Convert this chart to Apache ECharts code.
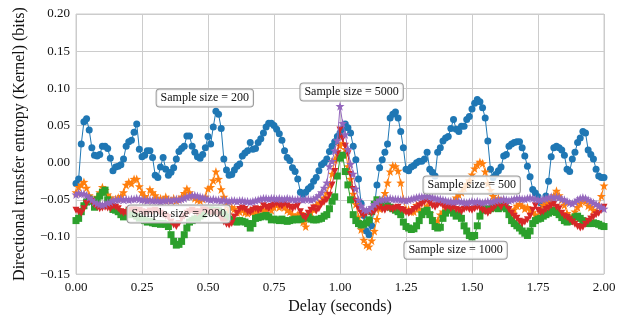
<!DOCTYPE html>
<html>
<head>
<meta charset="utf-8">
<script src="https://cdn.jsdelivr.net/npm/echarts@6/dist/echarts.min.js"></script>
<style>html,body{margin:0;padding:0;background:#fff}#c{width:632px;height:320px}</style>
</head>
<body>
<div id="c"></div>
<script>
// Delay axis: 0.00 .. 2.00 seconds in 0.01 s steps
const xTicks = ['0.00','0.25','0.50','0.75','1.00','1.25','1.50','1.75','2.00'];
const yTicks = ['−0.15','−0.10','−0.05','0.00','0.05','0.10','0.15','0.20'];
const seriesNames = ['Sample size = 200','Sample size = 500','Sample size = 1000','Sample size = 2000','Sample size = 5000'];

const te200 = [
-0.028,-0.022,0.025,0.055,0.059,0.044,0.020,0.010,0.009,0.011,
0.022,0.022,0.019,0.006,-0.011,-0.006,-0.005,-0.003,0.005,0.022,
0.028,0.030,0.041,0.052,0.018,0.008,0.010,0.016,0.016,0.007,
-0.017,-0.020,-0.006,0.007,-0.009,-0.017,-0.013,-0.007,0.005,0.015,
0.019,0.022,0.036,0.036,0.022,0.014,0.008,0.006,0.011,0.020,
0.035,0.025,0.048,0.069,0.065,0.046,0.005,-0.010,-0.017,-0.016,
-0.010,-0.005,-0.002,0.009,0.013,0.016,0.027,0.018,0.019,0.027,
0.032,0.040,0.048,0.053,0.053,0.050,0.045,0.039,0.030,0.016,
0.007,0.003,-0.007,-0.012,-0.022,-0.040,-0.043,-0.040,-0.035,-0.032,
-0.025,-0.020,-0.011,-0.003,0.000,0.005,0.015,0.022,0.028,0.035,
0.040,0.045,0.052,0.047,0.040,0.022,0.004,-0.022,-0.055,-0.071,
-0.092,-0.097,-0.085,-0.060,-0.030,-0.007,0.004,0.014,0.025,0.060,
0.065,0.068,0.060,0.042,0.020,-0.009,-0.011,-0.006,-0.004,0.000,
0.002,0.002,0.005,0.014,-0.009,-0.013,-0.018,0.014,0.020,0.029,
0.033,0.035,0.046,0.058,0.045,0.042,0.049,0.049,0.058,0.062,
0.072,0.080,0.085,0.082,0.074,0.060,0.029,-0.009,-0.020,-0.016,
-0.011,-0.006,0.009,0.011,0.022,0.025,0.027,0.028,0.028,0.020,
0.009,-0.005,-0.019,-0.036,-0.041,-0.046,-0.054,-0.057,-0.045,-0.025,
0.008,0.020,0.022,0.020,0.017,0.010,-0.009,-0.012,0.005,0.014,
0.027,0.033,0.042,0.040,0.017,0.011,0.005,-0.009,-0.018,-0.020,
-0.020];

const te500 = [
-0.040,-0.033,-0.030,-0.026,-0.034,-0.044,-0.049,-0.051,-0.046,-0.040,
-0.033,-0.037,-0.043,-0.047,-0.050,-0.049,-0.047,-0.045,-0.040,-0.030,
-0.026,-0.028,-0.022,-0.022,-0.032,-0.040,-0.045,-0.049,-0.036,-0.040,
-0.044,-0.049,-0.048,-0.050,-0.046,-0.050,-0.051,-0.048,-0.051,-0.049,
-0.046,-0.041,-0.035,-0.040,-0.045,-0.048,-0.050,-0.051,-0.049,-0.046,
-0.035,-0.033,-0.024,-0.012,-0.022,-0.036,-0.046,-0.058,-0.064,-0.060,
-0.062,-0.067,-0.066,-0.063,-0.067,-0.068,-0.064,-0.066,-0.070,-0.065,
-0.062,-0.066,-0.063,-0.060,-0.064,-0.060,-0.057,-0.060,-0.055,-0.060,
-0.064,-0.066,-0.070,-0.073,-0.070,-0.068,-0.080,-0.086,-0.073,-0.067,
-0.063,-0.057,-0.054,-0.052,-0.047,-0.041,-0.030,-0.015,0.004,0.015,
0.023,0.026,0.018,-0.005,-0.022,-0.042,-0.056,-0.073,-0.090,-0.104,
-0.111,-0.113,-0.105,-0.092,-0.076,-0.062,-0.050,-0.041,-0.027,-0.012,
-0.004,-0.005,-0.011,-0.027,-0.049,-0.064,-0.063,-0.066,-0.066,-0.057,
-0.062,-0.068,-0.063,-0.058,-0.068,-0.075,-0.080,-0.078,-0.070,-0.066,
-0.060,-0.054,-0.058,-0.052,-0.047,-0.043,-0.040,-0.034,-0.029,-0.024,
-0.016,-0.008,-0.003,0.001,-0.001,-0.012,-0.028,-0.037,-0.045,-0.051,
-0.048,-0.053,-0.057,-0.061,-0.065,-0.068,-0.063,-0.058,-0.056,-0.058,
-0.062,-0.060,-0.064,-0.067,-0.070,-0.073,-0.064,-0.057,-0.055,-0.053,
-0.048,-0.044,-0.038,-0.044,-0.050,-0.057,-0.068,-0.072,-0.073,-0.066,
-0.060,-0.055,-0.050,-0.052,-0.058,-0.060,-0.064,-0.066,-0.058,-0.045,
-0.031];

const te1000 = [
-0.078,-0.075,-0.066,-0.058,-0.053,-0.049,-0.052,-0.060,-0.050,-0.045,
-0.040,-0.037,-0.050,-0.057,-0.063,-0.064,-0.066,-0.070,-0.073,-0.068,
-0.066,-0.070,-0.067,-0.072,-0.075,-0.076,-0.078,-0.080,-0.079,-0.081,
-0.082,-0.082,-0.083,-0.082,-0.083,-0.086,-0.097,-0.106,-0.111,-0.110,
-0.106,-0.097,-0.088,-0.080,-0.078,-0.076,-0.075,-0.072,-0.070,-0.066,
-0.062,-0.063,-0.066,-0.064,-0.065,-0.067,-0.070,-0.073,-0.076,-0.077,
-0.079,-0.080,-0.078,-0.079,-0.080,-0.082,-0.088,-0.082,-0.075,-0.074,
-0.073,-0.072,-0.071,-0.073,-0.077,-0.076,-0.077,-0.078,-0.076,-0.078,
-0.079,-0.078,-0.077,-0.076,-0.077,-0.076,-0.075,-0.074,-0.073,-0.076,
-0.077,-0.077,-0.076,-0.075,-0.072,-0.070,-0.062,-0.052,-0.046,-0.018,
0.006,0.010,-0.012,-0.030,-0.050,-0.070,-0.078,-0.082,-0.084,-0.083,
-0.081,-0.077,-0.066,-0.056,-0.050,-0.052,-0.053,-0.055,-0.058,-0.060,
-0.062,-0.064,-0.066,-0.070,-0.080,-0.086,-0.088,-0.090,-0.089,-0.085,
-0.078,-0.070,-0.066,-0.064,-0.070,-0.078,-0.086,-0.088,-0.087,-0.075,
-0.068,-0.063,-0.064,-0.068,-0.072,-0.070,-0.075,-0.085,-0.092,-0.098,
-0.100,-0.098,-0.085,-0.072,-0.064,-0.062,-0.064,-0.062,-0.060,-0.061,
-0.062,-0.058,-0.060,-0.062,-0.070,-0.078,-0.082,-0.085,-0.088,-0.092,
-0.095,-0.098,-0.092,-0.082,-0.078,-0.076,-0.075,-0.072,-0.070,-0.068,
-0.066,-0.064,-0.067,-0.070,-0.074,-0.078,-0.080,-0.079,-0.076,-0.073,
-0.072,-0.075,-0.078,-0.081,-0.082,-0.082,-0.081,-0.082,-0.083,-0.085,
-0.086];

const te2000 = [
-0.064,-0.066,-0.068,-0.062,-0.055,-0.050,-0.052,-0.057,-0.060,-0.062,
-0.061,-0.060,-0.061,-0.062,-0.059,-0.060,-0.062,-0.066,-0.068,-0.067,
-0.064,-0.062,-0.063,-0.065,-0.064,-0.066,-0.068,-0.067,-0.065,-0.066,
-0.064,-0.066,-0.068,-0.070,-0.072,-0.074,-0.080,-0.084,-0.086,-0.082,
-0.076,-0.072,-0.068,-0.066,-0.064,-0.066,-0.068,-0.066,-0.062,-0.064,
-0.066,-0.067,-0.068,-0.066,-0.070,-0.076,-0.080,-0.083,-0.084,-0.082,
-0.073,-0.068,-0.063,-0.061,-0.063,-0.066,-0.067,-0.064,-0.062,-0.064,
-0.063,-0.058,-0.060,-0.062,-0.059,-0.057,-0.055,-0.057,-0.059,-0.055,
-0.058,-0.060,-0.062,-0.060,-0.058,-0.066,-0.072,-0.075,-0.068,-0.064,
-0.061,-0.065,-0.062,-0.056,-0.053,-0.050,-0.044,-0.030,-0.012,0.012,
0.044,0.032,0.022,0.012,-0.016,-0.036,-0.052,-0.062,-0.068,-0.071,
-0.068,-0.066,-0.068,-0.066,-0.062,-0.060,-0.063,-0.064,-0.061,-0.062,
-0.063,-0.061,-0.060,-0.063,-0.064,-0.067,-0.068,-0.066,-0.063,-0.061,
-0.058,-0.056,-0.053,-0.050,-0.055,-0.058,-0.060,-0.057,-0.055,-0.058,
-0.061,-0.059,-0.062,-0.060,-0.063,-0.064,-0.066,-0.063,-0.061,-0.063,
-0.064,-0.062,-0.060,-0.061,-0.064,-0.066,-0.068,-0.065,-0.062,-0.058,
-0.055,-0.060,-0.054,-0.058,-0.063,-0.068,-0.072,-0.075,-0.079,-0.082,
-0.080,-0.077,-0.072,-0.064,-0.058,-0.064,-0.067,-0.066,-0.063,-0.061,
-0.058,-0.056,-0.060,-0.062,-0.068,-0.072,-0.074,-0.077,-0.080,-0.083,
-0.086,-0.088,-0.087,-0.083,-0.079,-0.076,-0.073,-0.070,-0.068,-0.064,
-0.060];

const te5000 = [
-0.043,-0.041,-0.042,-0.042,-0.044,-0.047,-0.050,-0.053,-0.055,-0.056,
-0.057,-0.056,-0.054,-0.053,-0.051,-0.050,-0.050,-0.049,-0.050,-0.049,
-0.050,-0.049,-0.049,-0.048,-0.049,-0.050,-0.050,-0.051,-0.050,-0.051,
-0.051,-0.051,-0.052,-0.051,-0.051,-0.050,-0.051,-0.050,-0.049,-0.050,
-0.049,-0.048,-0.046,-0.045,-0.044,-0.044,-0.045,-0.046,-0.047,-0.048,
-0.049,-0.050,-0.049,-0.050,-0.050,-0.051,-0.050,-0.051,-0.052,-0.051,
-0.051,-0.052,-0.051,-0.051,-0.052,-0.052,-0.053,-0.052,-0.051,-0.050,
-0.049,-0.048,-0.048,-0.049,-0.048,-0.048,-0.049,-0.048,-0.049,-0.049,
-0.048,-0.049,-0.049,-0.050,-0.049,-0.049,-0.050,-0.049,-0.049,-0.050,
-0.049,-0.047,-0.044,-0.040,-0.034,-0.027,-0.005,0.002,0.016,0.030,
0.076,0.053,0.038,0.018,-0.002,-0.015,-0.035,-0.050,-0.058,-0.063,
-0.064,-0.063,-0.060,-0.056,-0.053,-0.050,-0.050,-0.049,-0.049,-0.048,
-0.049,-0.049,-0.049,-0.050,-0.050,-0.051,-0.050,-0.049,-0.048,-0.047,
-0.046,-0.046,-0.045,-0.045,-0.046,-0.047,-0.048,-0.049,-0.049,-0.050,
-0.051,-0.052,-0.052,-0.053,-0.052,-0.052,-0.053,-0.053,-0.054,-0.053,
-0.052,-0.053,-0.052,-0.053,-0.054,-0.053,-0.052,-0.053,-0.052,-0.051,
-0.050,-0.050,-0.049,-0.050,-0.051,-0.050,-0.049,-0.048,-0.048,-0.049,
-0.049,-0.048,-0.047,-0.048,-0.049,-0.050,-0.050,-0.049,-0.048,-0.047,
-0.046,-0.047,-0.046,-0.047,-0.049,-0.050,-0.052,-0.054,-0.055,-0.053,
-0.050,-0.048,-0.047,-0.048,-0.050,-0.052,-0.054,-0.056,-0.058,-0.060,
-0.062];

// annotation anchor points (data coordinates) for the boxed labels
const annotations = [
  {text: 'Sample size = 200',  x: 0.488, y: 0.0870},
  {text: 'Sample size = 5000', x: 1.044, y: 0.0950},
  {text: 'Sample size = 500',  x: 1.499, y: -0.0300},
  {text: 'Sample size = 2000', x: 0.389, y: -0.0690},
  {text: 'Sample size = 1000', x: 1.438, y: -0.1180}
];

const delays = te200.map((_, i) => Math.round(i) / 100);
const pair = arr => arr.map((v, i) => [delays[i], v]);

const FONT = 'Liberation Serif';
const STAR = 'path://M0,-10L2.35,-3.24L9.51,-3.09L3.8,1.24L5.88,8.09L0,4L-5.88,8.09L-3.8,1.24L-9.51,-3.09L-2.35,-3.24Z';
const colors = ['#1f77b4','#ff7f0e','#2ca02c','#d62728','#9467bd'];
const symbols = ['circle', STAR, 'rect', 'triangle', STAR];
const sizes = [7, 9, 7, 7, 9];
const rot = [0, 0, 0, 180, 0];
const datas = [te200, te500, te1000, te2000, te5000];

const chart = echarts.init(document.getElementById('c'), null, {renderer: 'canvas'});
const fmt = v => {
  const r = Math.round(v * 100) / 100;
  return (r < 0 ? '−' : '') + Math.abs(r).toFixed(2);
};

chart.setOption({
  animation: false,
  backgroundColor: '#ffffff',
  grid: {left: 76, right: 28, top: 14, bottom: 44, show: true, borderColor: '#cccccc', borderWidth: 1, containLabel: false},
  xAxis: {
    type: 'value', min: 0, max: 2, interval: 0.25,
    name: 'Delay (seconds)', nameLocation: 'middle', nameGap: 20,
    nameTextStyle: {fontFamily: FONT, fontSize: 16, color: '#111'},
    axisLine: {show: false}, axisTick: {show: false},
    axisLabel: {fontFamily: FONT, fontSize: 13, color: '#111', margin: 7, formatter: v => v.toFixed(2)},
    splitLine: {show: true, lineStyle: {color: '#cccccc', width: 1}}
  },
  yAxis: {
    type: 'value', min: -0.15, max: 0.2, interval: 0.05,
    name: 'Directional transfer entropy (Kernel) (bits)', nameLocation: 'middle', nameGap: 48,
    nameTextStyle: {fontFamily: FONT, fontSize: 16, color: '#111'},
    axisLine: {show: false}, axisTick: {show: false},
    axisLabel: {fontFamily: FONT, fontSize: 13, color: '#111', margin: 6, formatter: fmt},
    splitLine: {show: true, lineStyle: {color: '#cccccc', width: 1}}
  },
  series: datas.map((d, k) => ({
    name: seriesNames[k],
    type: 'line',
    data: pair(d),
    symbol: symbols[k],
    symbolSize: sizes[k],
    symbolRotate: rot[k],
    showSymbol: true,
    showAllSymbol: true,
    color: colors[k],
    lineStyle: {color: colors[k], width: 1},
    itemStyle: {color: colors[k], borderWidth: 0},
    z: 2 + k,
    emphasis: {disabled: true}
  }))
});

const graphics = annotations.map(a => {
  const p = chart.convertToPixel({gridIndex: 0}, [a.x, a.y]);
  return {
    type: 'text', z: 100, x: p[0], y: p[1],
    style: {
      text: a.text, font: '12px "' + FONT + '"', fill: '#111',
      align: 'center', verticalAlign: 'middle',
      backgroundColor: 'rgba(255,255,255,0.8)', borderColor: '#9a9a9a', borderWidth: 1,
      borderRadius: 3, padding: [3, 4, 2, 4]
    }
  };
});
chart.setOption({graphic: graphics});
</script>
</body>
</html>
